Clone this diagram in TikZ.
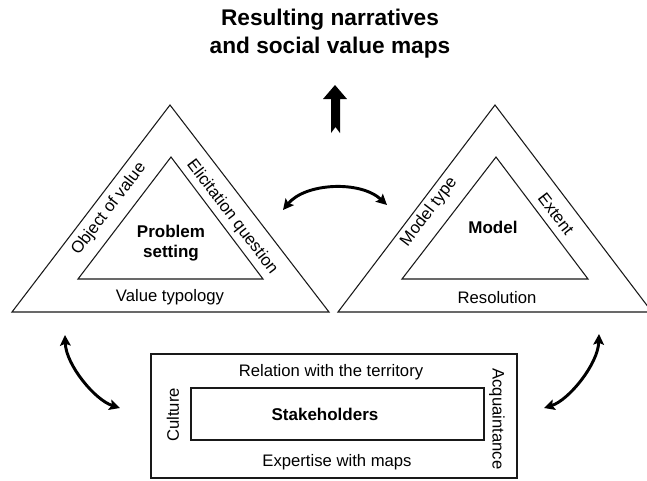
\documentclass[tikz,border=0pt]{standalone}
\usepackage{fontspec}
\setmainfont{Liberation Sans}
\usetikzlibrary{arrows.meta}
\begin{document}
\begin{tikzpicture}[x=0.75pt,y=-0.75pt,
  frame/.style={draw=black!90, line width=0.8pt},
  lbl/.style={font=\fontsize{12.5}{14}\selectfont, inner sep=0pt},
  core/.style={font=\fontsize{12.75}{15}\selectfont\bfseries, inner sep=0pt, align=center},
  swap/.style={line width=2.2pt,
    {Stealth[length=8pt,width=8pt,inset=1.5pt]}-{Stealth[length=8pt,width=8pt,inset=1.5pt]}},
]
\useasboundingbox (0,0) rectangle (647,480);
\clip (0,0) rectangle (647,480);

% ---- title ----
\node[font=\fontsize{17}{21}\selectfont\bfseries, align=center, inner sep=0pt]
  (title) at (330,34) {Resulting narratives\\and social value maps};

% ---- output arrow (block arrow with notched tail) ----
\coordinate (upTip) at (335,85);
\fill[black] (upTip) -- (347,99) -- (340,99) -- (340,133) -- (335.5,127)
  -- (331,133) -- (331,99) -- (323,99) -- cycle;

% ---- problem setting triangle ----
\coordinate (psTop) at (170,105);
\coordinate (psLeft) at (12,312);
\coordinate (psRight) at (329,312);
\draw[frame] (psTop) -- (psLeft) -- (psRight) -- cycle;
\coordinate (psiTop) at (171,157);
\coordinate (psiLeft) at (78,279);
\coordinate (psiRight) at (263,279);
\draw[frame] (psiTop) -- (psiLeft) -- (psiRight) -- cycle;
\node[core] (problem) at (171,243) {Problem\\setting};
\node[lbl, rotate=52.6] (object) at (109,209) {Object of value};
\node[lbl, rotate=-52.6] (elicit) at (232,217) {Elicitation question};
\node[lbl] (typology) at (170,297) {Value typology};

% ---- model triangle ----
\coordinate (mTop) at (495,105);
\coordinate (mLeft) at (338,312);
\coordinate (mRight) at (652,312);
\draw[frame] (mTop) -- (mLeft) -- (mRight) -- cycle;
\coordinate (miTop) at (496,157);
\coordinate (miLeft) at (402,279);
\coordinate (miRight) at (588,279);
\draw[frame] (miTop) -- (miLeft) -- (miRight) -- cycle;
\node[core] (model) at (493,227) {Model};
\node[lbl, rotate=52.6] (mtype) at (429,212) {Model type};
\node[lbl, rotate=-52.6] (extent) at (556,214) {Extent};
\node[lbl] (resolution) at (497,298) {Resolution};

% ---- stakeholders box ----
\draw[frame] (151,354) rectangle (517,478);
\draw[frame] (191,388) rectangle (484,440);
\node[core] (stake) at (325,414) {Stakeholders};
\node[lbl] (relation) at (331,372) {Relation with the territory};
\node[lbl] (expertise) at (337,462) {Expertise with maps};
\node[lbl, rotate=90] (culture) at (173,415) {Culture};
\node[lbl, rotate=-90] (acq) at (497,419) {Acquaintance};

% ---- exchange arrows ----
\coordinate (tL) at (283,210);
\coordinate (tR) at (387,205);
\draw[swap] (tL) .. controls (305,183) and (360,180) .. (tR);

\coordinate (lTop) at (65,335);
\coordinate (lBot) at (120,408);
\draw[swap] (lTop) .. controls (66,365) and (95,400) .. (lBot);

\coordinate (rTop) at (599,334);
\coordinate (rBot) at (544,408);
\draw[swap] (rTop) .. controls (598,364) and (569,400) .. (rBot);
\end{tikzpicture}
\end{document}
